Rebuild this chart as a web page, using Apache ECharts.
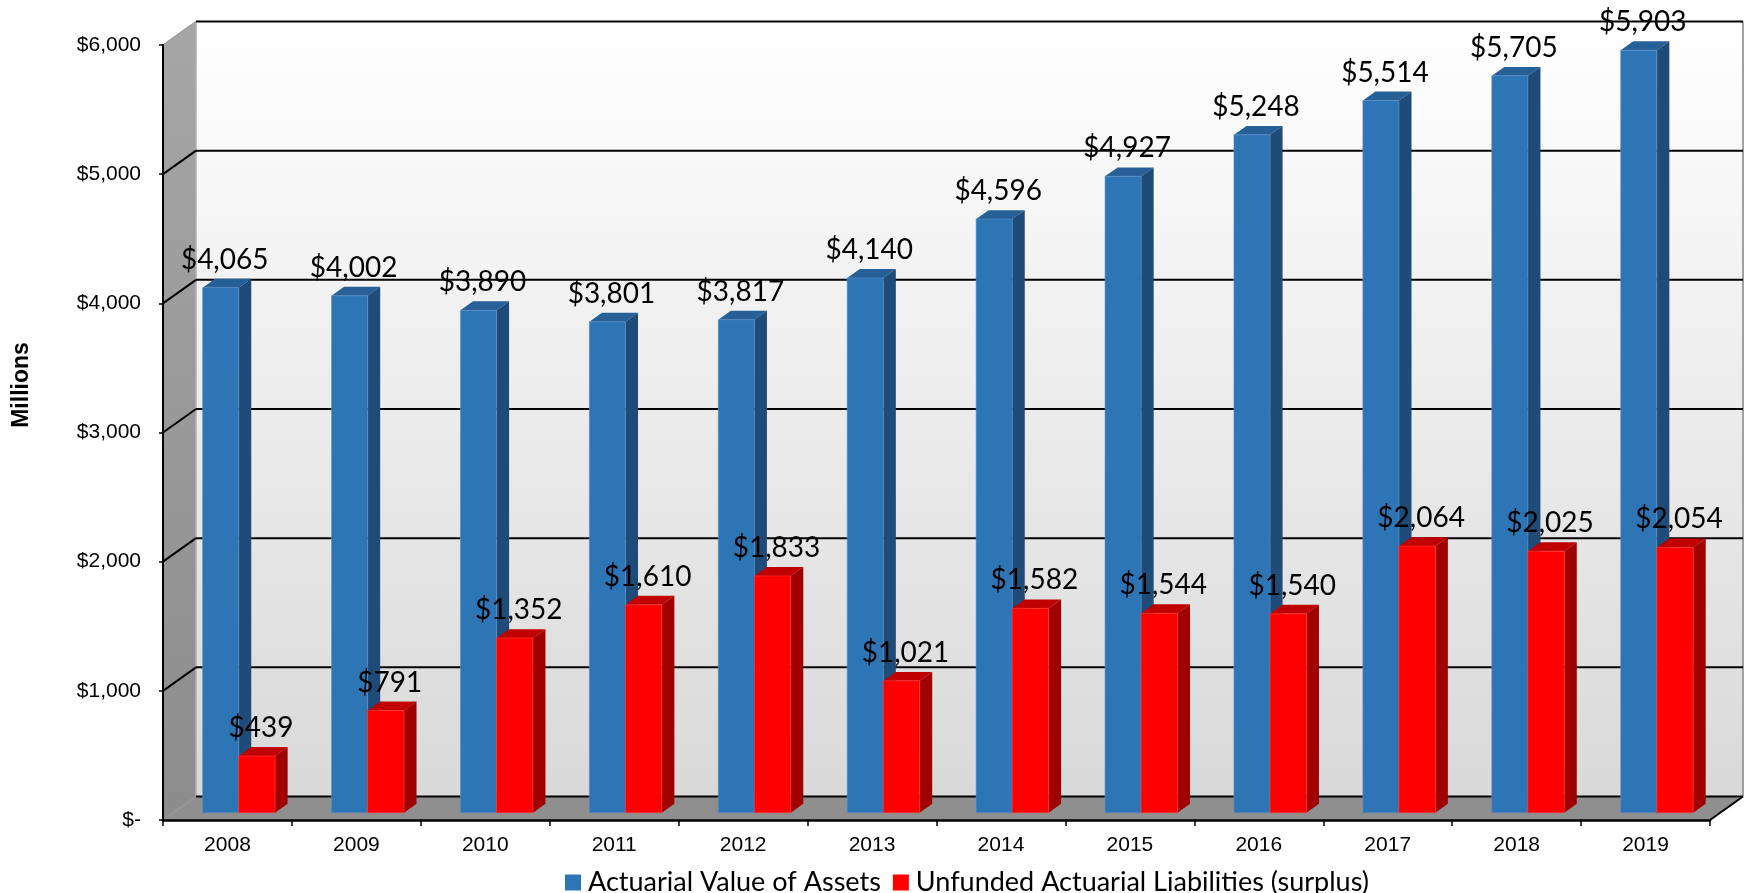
<!DOCTYPE html>
<html><head><meta charset="utf-8">
<script src="https://cdn.jsdelivr.net/npm/echarts@6/dist/echarts.min.js"></script>
<style>html,body{margin:0;padding:0;background:#fff}#c{width:1746px;height:893px}</style>
</head><body><div id="c"></div>
<script>
// ---- data ----
const years = ['2008','2009','2010','2011','2012','2013','2014','2015','2016','2017','2018','2019'];
const assets = [4065,4002,3890,3801,3817,4140,4596,4927,5248,5514,5705,5903];
const unfunded = [439,791,1352,1610,1833,1021,1582,1544,1540,2064,2025,2054];
const yTicks = [0,1000,2000,3000,4000,5000,6000];
const seriesNames = ['Actuarial Value of Assets','Unfunded Actuarial Liabilities (surplus)'];
const yTitle = 'Millions';

// ---- style ----
const DEPTH = [33, -23.5];
const BAR_D0 = 0.31, BAR_D1 = 0.69;
const LABEL_FONT = 'Lato, "Open Sans", sans-serif';
const AXIS_FONT = '"Liberation Sans", Arial, sans-serif';

function fmt(v){ return v === 0 ? '$-' : '$' + Number(v).toLocaleString('en-US'); }

function barRenderer(offsets, colors){
  return function(params, api){
    const idx = api.value(0), val = api.value(1);
    const c = api.coord([idx, val]);
    const b = api.coord([idx, 0]);
    const w = api.size([1, 0])[0];
    const fx = DEPTH[0]*BAR_D0, fy = DEPTH[1]*BAR_D0;
    const dx = DEPTH[0]*(BAR_D1-BAR_D0), dy = DEPTH[1]*(BAR_D1-BAR_D0);
    const L = c[0] + offsets[0]*w + fx, R = c[0] + offsets[1]*w + fx;
    const T = c[1] + fy, B = b[1] + fy;
    return {type:'group', children:[
      {type:'polygon', shape:{points:[[L,T],[R,T],[R+dx,T+dy],[L+dx,T+dy]]}, style:{fill:colors.top}},
      {type:'polygon', shape:{points:[[R,T],[R+dx,T+dy],[R+dx,B+dy],[R,B]]}, style:{fill:colors.side}},
      {type:'rect', shape:{x:L, y:T, width:R-L, height:B-T}, style:{fill:colors.front, stroke:colors.edge, lineWidth:0.6}},
      {type:'text', x:(L+R)/2 + 4, y:T - 14, z2:10, style:{text:fmt(val), fill:'#000', fontSize:28, fontFamily:LABEL_FONT, align:'center', verticalAlign:'bottom'}}
    ]};
  };
}

function frameRenderer(params, api){
  const w = api.size([1, 0])[0];
  const Lx = api.coord([0, 0])[0] - w/2;
  const Rx = api.coord([years.length-1, 0])[0] + w/2;
  const y0 = api.coord([0, yTicks[0]])[1];
  const yT = api.coord([0, yTicks[yTicks.length-1]])[1];
  const Dx = DEPTH[0], Dy = DEPTH[1];
  const ch = [];
  ch.push({type:'polygon', shape:{points:[[Lx+Dx,yT+Dy],[Rx+Dx,yT+Dy],[Rx+Dx,y0+Dy],[Lx+Dx,y0+Dy]]},
    style:{fill:new echarts.graphic.LinearGradient(0,0,0,1,[{offset:0,color:'#ffffff'},{offset:1,color:'#d9d9d9'}])}});
  ch.push({type:'polygon', shape:{points:[[Lx,yT],[Lx+Dx,yT+Dy],[Lx+Dx,y0+Dy],[Lx,y0]]},
    style:{fill:new echarts.graphic.LinearGradient(0,0,0,1,[{offset:0,color:'#a6a6a6'},{offset:1,color:'#8c8c8c'}])}});
  ch.push({type:'polygon', shape:{points:[[Lx,y0],[Rx,y0],[Rx+Dx,y0+Dy],[Lx+Dx,y0+Dy]]}, style:{fill:'#8f8f8f'}});
  ch.push({type:'line', shape:{x1:Lx+Dx,y1:yT+Dy,x2:Lx+Dx,y2:y0+Dy}, style:{stroke:'#b0b0b0', lineWidth:1.5}});
  ch.push({type:'line', shape:{x1:Rx+Dx,y1:yT+Dy,x2:Rx+Dx,y2:y0+Dy}, style:{stroke:'#a0a0a0', lineWidth:2}});
  yTicks.forEach(function(t, i){
    const y = api.coord([0, t])[1];
    const edge = (i === 0 || i === yTicks.length-1);
    ch.push({type:'line', shape:{x1:Lx,y1:y,x2:Lx+Dx,y2:y+Dy}, style:{stroke: edge ? '#9a9a9a' : '#000', lineWidth: edge ? 1.5 : 2}});
    ch.push({type:'line', shape:{x1:Lx+Dx,y1:y+Dy,x2:Rx+Dx,y2:y+Dy}, style:{stroke:'#000', lineWidth:2}});
  });
  ch.push({type:'line', shape:{x1:Rx,y1:y0,x2:Rx+Dx,y2:y0+Dy}, style:{stroke:'#000', lineWidth:2}});
  return {type:'group', children:ch};
}

const chart = echarts.init(document.getElementById('c'), null, {renderer:'canvas'});
chart.setOption({
  animation:false,
  backgroundColor:'#ffffff',
  grid:{left:163, right:36, top:45, bottom:73},
  graphic:[{
    type:'text', x:22, y:385, rotation:Math.PI/2,
    style:{text:yTitle, fill:'#000', font:'bold 23px "Liberation Sans", Arial, sans-serif', align:'center', verticalAlign:'middle'}
  }],
  legend:{
    data:seriesNames, left:560, top:864, icon:'rect', itemWidth:16, itemHeight:16, itemGap:12,
    textStyle:{fontFamily:LABEL_FONT, fontSize:27, color:'#000', padding:[0,0,0,2]}
  },
  xAxis:{
    type:'category', data:years, z:5,
    axisLine:{show:true, lineStyle:{color:'#000', width:2.5}},
    axisTick:{show:true, length:6, lineStyle:{color:'#000', width:1.5}},
    axisLabel:{fontFamily:AXIS_FONT, fontSize:21, color:'#000', margin:15},
    splitLine:{show:false}
  },
  yAxis:{
    type:'value', min:0, max:6000, interval:1000, z:5,
    axisLine:{show:true, lineStyle:{color:'#000', width:2}},
    axisTick:{show:true, length:4, lineStyle:{color:'#000', width:1.5}},
    axisLabel:{fontFamily:AXIS_FONT, fontSize:21, color:'#000', margin:22, formatter:fmt},
    splitLine:{show:false}
  },
  series:[
    {type:'custom', name:'frame', silent:true, z:1, clip:false, renderItem:frameRenderer, data:[[0,0]]},
    {type:'custom', name:seriesNames[0], z:2, clip:false, itemStyle:{color:'#2e75b6'},
      renderItem:barRenderer([-0.272, 0.008], {front:'#2e75b6', side:'#1f4b78', top:'#275f97', edge:'#5a8fc8'}),
      data:assets.map(function(v,i){return [i, v];})},
    {type:'custom', name:seriesNames[1], z:2, clip:false, itemStyle:{color:'#ff0000'},
      renderItem:barRenderer([0.008, 0.29], {front:'#ff0000', side:'#a00000', top:'#c00000', edge:'#ff3a3a'}),
      data:unfunded.map(function(v,i){return [i, v];})}
  ]
});
</script>
</body></html>
